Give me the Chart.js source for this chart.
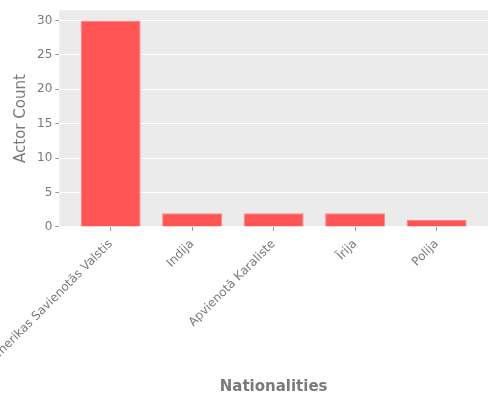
<!DOCTYPE html>
<html>
<head>
<meta charset="utf-8">
<script src="https://cdn.jsdelivr.net/npm/chart.js@4.4.0/dist/chart.umd.min.js"></script>
<style>
  html, body { margin: 0; padding: 0; background: #fff; }
  #wrap { width: 500px; height: 400px; }
</style>
</head>
<body>
<div id="wrap"><canvas id="chart"></canvas></div>
<script>
// donnees
var nationalities = ['Amerikas Savienotās Valstis', 'Indija', 'Apvienotā Karaliste', 'Īrija', 'Polija'];
var actorCounts = [30, 2, 2, 2, 1];
var yTicks = [0, 5, 10, 15, 20, 25, 30];

var grey = '#7a7a7a';

// fond gris style ggplot
var fondGris = {
    id: 'fondGris',
    beforeDraw: function (chart) {
        var a = chart.chartArea;
        var ctx = chart.ctx;
        ctx.save();
        ctx.fillStyle = '#EBEBEB';
        ctx.fillRect(a.left, a.top, a.right - a.left, a.bottom - a.top);
        ctx.restore();
    }
};

var points = nationalities.map(function (n, i) {
    return { x: i, y: actorCounts[i] };
});

var ctx = document.getElementById('chart').getContext('2d');
var chart = new Chart(ctx, {
    type: 'bar',
    data: {
        datasets: [{
            label: 'Actor Count',
            data: points,
            backgroundColor: '#FF5555',
            borderColor: '#FF8585',
            borderWidth: 1,
            barPercentage: 0.736,
            categoryPercentage: 1
        }]
    },
    options: {
        responsive: true,
        maintainAspectRatio: false,
        animation: false,
        layout: { padding: { top: 10, right: 12, bottom: 4, left: 12 } },
        plugins: {
            legend: { display: false },
            tooltip: { enabled: false }
        },
        scales: {
            x: {
                type: 'linear',
                min: -0.63,
                max: 4.63,
                offset: false,
                afterBuildTicks: function (scale) {
                    scale.ticks = nationalities.map(function (n, i) { return { value: i }; });
                },
                afterFit: function (scale) {
                    scale.paddingLeft = 0;
                    scale.paddingRight = 0;
                },
                grid: {
                    offset: false,
                    drawOnChartArea: false,
                    drawTicks: true,
                    tickLength: 4,
                    tickColor: '#999999'
                },
                border: { display: false },
                ticks: {
                    autoSkip: false,
                    minRotation: 45,
                    maxRotation: 45,
                    padding: 6,
                    color: grey,
                    font: { family: 'DejaVu Sans', size: 12 },
                    callback: function (v) { return nationalities[v]; }
                },
                title: {
                    display: true,
                    text: 'Nationalities',
                    color: grey,
                    padding: { top: 6, bottom: 0 },
                    font: { family: 'DejaVu Sans', size: 15, weight: 'bold' }
                }
            },
            y: {
                min: 0,
                max: 31.5,
                afterBuildTicks: function (scale) {
                    scale.ticks = yTicks.map(function (v) { return { value: v }; });
                },
                grid: {
                    color: '#FFFFFF',
                    lineWidth: 1,
                    tickColor: '#999999',
                    tickLength: 4
                },
                border: { display: false },
                ticks: {
                    padding: 3,
                    color: grey,
                    font: { family: 'DejaVu Sans', size: 12 }
                },
                title: {
                    display: true,
                    text: 'Actor Count',
                    color: grey,
                    padding: { top: 0, bottom: 4 },
                    font: { family: 'DejaVu Sans', size: 15 }
                }
            }
        }
    },
    plugins: [fondGris]
});
</script>
</body>
</html>
